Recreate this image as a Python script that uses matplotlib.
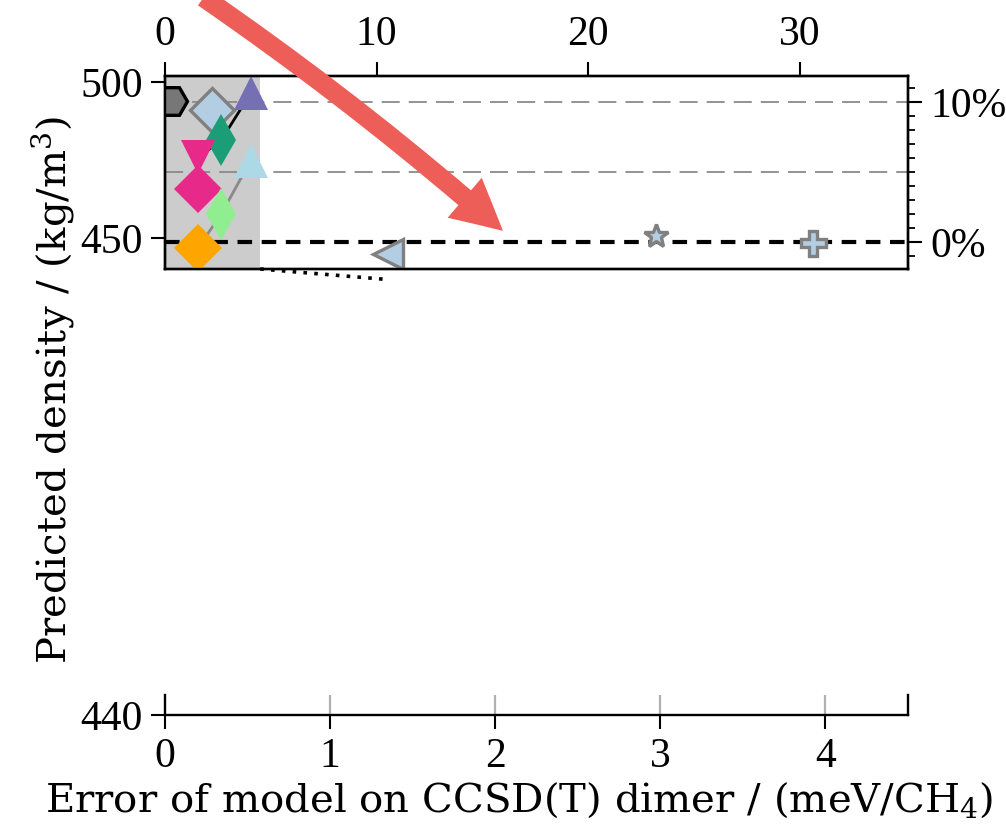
import matplotlib
matplotlib.use("Agg")
import matplotlib.pyplot as plt
from matplotlib.patches import FancyArrowPatch
from matplotlib.ticker import MultipleLocator, FixedLocator

plt.rcParams['font.family'] = ['Liberation Serif', 'DejaVu Serif']
plt.rcParams['mathtext.fontset'] = 'dejavuserif'
FS = 30
LABEL_FONT = dict(family=['DejaVu Serif'], fontsize=29)

# ---- data: dimer error (meV/CH4) vs predicted density (kg/m^3) ----
ref_density = 448.7          # experimental reference, 0% line
model_names = ["hexagon", "pale_diamond", "purple_tri", "teal_diamond",
               "pink_vtri", "pink_diamond", "lightblue_tri", "green_diamond",
               "orange_diamond", "left_tri", "star", "plus"]
model_err = [0.3, 2.2, 4.05, 2.65, 1.58, 1.58, 4.05, 2.65, 1.58, 10.55, 23.2, 30.6]
model_density = [494.0, 491.2, 496.5, 481.3, 475.9, 465.7, 474.8, 457.6, 446.9,
                 444.7, 450.6, 448.5]
markers = ["H", "D", "^", "d", "v", "D", "^", "d", "D", "<", "*", "P"]
faces = ["#777777", "#b3cde3", "#7570b3", "#1b9e77", "#e7298a", "#e7298a",
         "#add8e6", "#90ee90", "#ffa500", "#b3cde3", "#b3cde3", "#b3cde3"]
edges = ["#000000", "#808080", "none", "none", "none", "none",
         "none", "none", "none", "#808080", "#808080", "#808080"]
sizes = [23, 22, 24, 26, 24, 24, 24, 26, 24, 22, 18, 18]

# model families joined by lines
black_chain = [4, 3, 2]
grey_chain = [8, 7, 6]

top_xticks = [0, 10, 20, 30]
left_yticks = [450, 500]
pct_ticks = [0, 10]
pct_guides = [5, 10]
bottom_xticks = [0, 1, 2, 3, 4]
bottom_xlim = (0, 4.5)

fig = plt.figure(figsize=(10.06, 8.31), dpi=100)

# ---- lower axis (zoomed x range) ----
ax = fig.add_axes([0.164, 0.1396, 0.7386, 0.024])
ax.set_xlim(*bottom_xlim)
ax.set_ylim(440, 441)
ax.set_xticks(bottom_xticks)
ax.set_yticks([440])
ax.spines['top'].set_visible(False)
for s in ax.spines.values():
    s.set_linewidth(1.7)
ax.tick_params(axis='both', labelsize=FS, width=1.5, length=10, pad=6)
for xv in bottom_xticks[1:]:
    ax.axvline(xv, color="#b0b0b0", lw=1.6, zorder=0)
ax.set_xlabel("Error of model on CCSD(T) dimer / (meV/CH$_4$)", **LABEL_FONT)
ax.xaxis.set_label_coords(0.476, -3.3)

fig.text(0.052, 0.531, "Predicted density / (kg/m$^3$)", rotation=90,
         ha='center', va='center', **LABEL_FONT)

# ---- upper axis (full x range) ----
ai = fig.add_axes([0.164, 0.6763, 0.7386, 0.2323])
ai.set_xlim(0, 35.1)
ai.set_ylim(440, 502)
ai.axvspan(*bottom_xlim, color="#cccccc", zorder=0, lw=0)

ai.axhline(ref_density, color="black", ls=(0, (3.5, 2.3)), lw=3, zorder=1)
for p in pct_guides:
    ai.axhline(ref_density * (1 + p / 100), color="#8a8a8a", ls=(0, (10, 5)),
               lw=1.3, zorder=1)

ai.plot([model_err[i] for i in black_chain], [model_density[i] for i in black_chain],
        color="black", lw=2, zorder=2)
ai.plot([model_err[i] for i in grey_chain], [model_density[i] for i in grey_chain],
        color="#8a8a8a", lw=2, zorder=2)

for x, y, m, fc, ec, ms in zip(model_err, model_density, markers, faces, edges, sizes):
    ai.plot([x], [y], marker=m, ms=ms, mfc=fc, mec=ec,
            mew=2.4 if ec != "none" else 0, ls="none", zorder=3)

ai.xaxis.tick_top()
ai.set_xticks(top_xticks)
ai.set_yticks(left_yticks)
ai.tick_params(axis='both', labelsize=FS, width=1.5, length=10, pad=6)
for s in ai.spines.values():
    s.set_linewidth(1.7)

# percentage scale on the right
ar = ai.twinx()
lo, hi = ai.get_ylim()
ar.set_ylim((lo / ref_density - 1) * 100, (hi / ref_density - 1) * 100)
ar.yaxis.set_major_locator(FixedLocator(pct_ticks))
ar.yaxis.set_minor_locator(MultipleLocator(1))
ar.set_yticklabels([f"{p}%" for p in pct_ticks])
ar.tick_params(axis='y', which='major', labelsize=FS, width=1.5, length=10, pad=6)
ar.tick_params(axis='y', which='minor', width=1.3, length=5)
for s in ar.spines.values():
    s.set_linewidth(1.7)

# dotted zoom connector from the shaded window
ai.plot([bottom_xlim[1], 10.55], [440, 436.6], color="black", ls=(0, (1, 2)),
        lw=2.6, clip_on=False, zorder=4)

# highlight arrow
arrow = FancyArrowPatch((0.200, 1.005), (0.502, 0.72), transform=fig.transFigure,
                        connectionstyle="arc3,rad=-0.03",
                        arrowstyle="simple,head_length=2.6,head_width=2.7,tail_width=1.0",
                        mutation_scale=14, color="#ee5e58", lw=0, zorder=10)
fig.patches.append(arrow)

fig.savefig("out.png", dpi=100)
